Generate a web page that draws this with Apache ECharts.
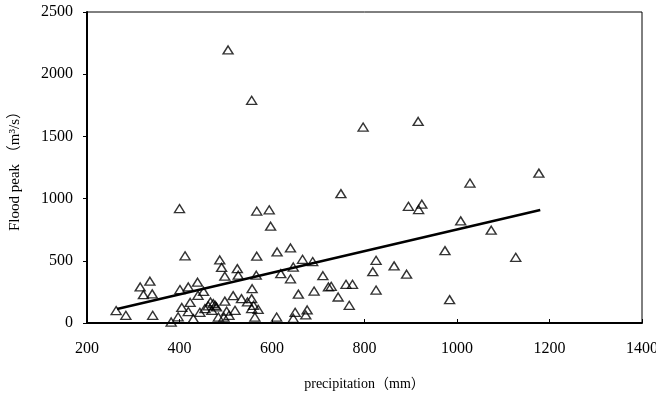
<!DOCTYPE html>
<html>
<head>
<meta charset="utf-8">
<script src="https://cdn.jsdelivr.net/npm/echarts@6/dist/echarts.min.js"></script>
<style>
  html, body { margin: 0; padding: 0; background: #fff; }
  #chart { width: 656px; height: 396px; }
</style>
</head>
<body>
<div id="chart"></div>
<script>
// observed stations: [precipitation (mm), flood peak (m3/s)]
const observations = [
  [263, 100], [284, 62], [315, 290], [322, 228], [336, 336], [341, 234], [342, 62],
  [382, 8], [397, 50], [400, 920], [401, 269], [405, 125], [412, 540], [419, 290],
  [419, 92], [423, 165], [430, 35], [439, 328], [440, 223], [444, 86], [452, 254],
  [455, 116], [462, 138], [467, 169], [473, 156], [477, 142], [480, 129], [470, 102],
  [484, 48], [487, 507], [491, 447], [498, 376], [498, 176], [502, 95], [507, 62],
  [496, 48], [505, 2195], [516, 220], [520, 102], [525, 437], [527, 384], [534, 196],
  [547, 169], [556, 1790], [557, 276], [556, 196], [560, 142], [556, 116], [570, 110],
  [563, 48], [567, 537], [567, 900], [566, 384], [594, 910], [597, 778], [610, 48],
  [611, 571], [619, 397], [640, 603], [640, 355], [646, 450], [646, 38], [650, 86],
  [657, 232], [666, 512], [673, 65], [676, 105], [688, 494], [691, 257], [710, 380],
  [722, 290], [728, 295], [743, 209], [749, 1040], [760, 311], [767, 142], [774, 311],
  [797, 1575], [818, 412], [825, 504], [825, 265], [864, 459], [891, 392], [895, 938],
  [916, 1620], [917, 912], [924, 955], [974, 582], [984, 188], [1008, 821], [1028, 1125],
  [1074, 746], [1127, 528], [1177, 1205]
];

// fitted trend line end points
const trendLine = [[265, 112], [1180, 909]];

const xTicks = { min: 200, max: 1400, interval: 200 };
const yTicks = { min: 0, max: 2500, interval: 500 };

const font = "'Liberation Serif', 'Times New Roman', 'Noto Sans CJK SC', serif";

const chart = echarts.init(document.getElementById("chart"));

chart.setOption({
  animation: false,
  backgroundColor: "#fff",
  grid: {
    left: 87,
    right: 14,
    top: 12,
    bottom: 73,
    containLabel: false,
    outerBoundsMode: "none",
    show: true,
    borderColor: "#000",
    borderWidth: 1,
  },
  xAxis: {
    type: "value",
    min: xTicks.min,
    max: xTicks.max,
    interval: xTicks.interval,
    name: "precipitation（mm）",
    nameLocation: "middle",
    nameGap: 54,
    nameTextStyle: { color: "#000", fontSize: 14, fontFamily: font },
    axisLine: { show: true, onZero: false, lineStyle: { color: "#000", width: 2 } },
    axisTick: { show: true, inside: true, length: 4, lineStyle: { color: "#000" } },
    axisLabel: {
      color: "#000", fontSize: 16, fontFamily: font, margin: 18,
      formatter: (v) => String(v),
    },
    splitLine: { show: false },
  },
  yAxis: {
    type: "value",
    min: yTicks.min,
    max: yTicks.max,
    interval: yTicks.interval,
    name: "Flood peak （m³/s）",
    nameLocation: "middle",
    nameRotate: 90,
    nameGap: 64,
    nameTextStyle: { color: "#000", fontSize: 15, fontFamily: font },
    axisLine: { show: true, lineStyle: { color: "#000", width: 2 } },
    axisTick: { show: true, inside: false, length: 4, lineStyle: { color: "#000" } },
    axisLabel: {
      color: "#000", fontSize: 16, fontFamily: font, margin: 14,
      formatter: (v) => String(v),
    },
    splitLine: { show: false },
  },
  series: [
    {
      type: "scatter",
      data: observations,
      symbol: "triangle",
      symbolSize: [10, 8],
      itemStyle: {
        color: "rgba(0,0,0,0)",
        borderColor: "#000",
        borderWidth: 1.4,
      },
      z: 2,
    },
    {
      type: "line",
      data: trendLine,
      symbol: "none",
      lineStyle: { color: "#000", width: 2.5 },
      z: 3,
    },
  ],
});
</script>
</body>
</html>
